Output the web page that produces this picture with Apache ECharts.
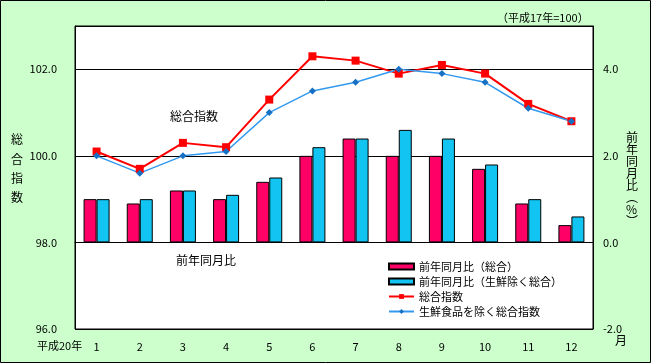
<!DOCTYPE html>
<html><head><meta charset="utf-8">
<script src="https://cdn.jsdelivr.net/npm/echarts@6/dist/echarts.min.js"></script>
<style>html,body{margin:0;padding:0;background:#CCFFCC}#c{width:651px;height:363px}</style>
</head><body><div id="c"></div>
<script>
const months = ['1','2','3','4','5','6','7','8','9','10','11','12'];
const yoyTotal = [1.0,0.9,1.2,1.0,1.4,2.0,2.4,2.0,2.0,1.7,0.9,0.4];
const yoyExFresh = [1.0,1.0,1.2,1.1,1.5,2.2,2.4,2.6,2.4,1.8,1.0,0.6];
const indexTotal = [100.1,99.7,100.3,100.2,101.3,102.3,102.2,101.9,102.1,101.9,101.2,100.8];
const indexExFresh = [100.0,99.6,100.0,100.1,101.0,101.5,101.7,102.0,101.9,101.7,101.1,100.8];
const names = ['前年同月比（総合）','前年同月比（生鮮除く総合）','総合指数','生鮮食品を除く総合指数'];

const FF = 'Noto Sans CJK JP';
const chart = echarts.init(document.getElementById('c'), null, {renderer:'canvas'});
chart.setOption({
  backgroundColor: '#CCFFCC',
  animation: false,
  textStyle: {fontFamily: FF, color: '#000'},
  grid: {left: 75, right: 58, top: 26, bottom: 34, show: true, backgroundColor: '#fff', borderColor: '#000', borderWidth: 1},
  legend: {
    orient: 'vertical', left: 383, top: 256, itemWidth: 25, itemHeight: 6, itemGap: 4,
    textStyle: {fontFamily: FF, fontSize: 11, color: '#000'},
    data: [
      {name: names[0], icon: 'rect'},
      {name: names[1], icon: 'rect'},
      {name: names[2]},
      {name: names[3]}
    ]
  },
  xAxis: {
    type: 'category', data: months, boundaryGap: true,
    axisLine: {lineStyle: {color: '#000'}},
    axisTick: {inside: true, length: 4, lineStyle: {color: '#000'}},
    axisLabel: {color: '#000', fontFamily: FF, fontSize: 11, margin: 12}
  },
  yAxis: [
    {type: 'value', min: 96, max: 103, interval: 2,
     axisLine: {show: true, lineStyle: {color: '#000'}}, axisTick: {show: false},
     splitLine: {lineStyle: {color: '#000', width: 1}},
     axisLabel: {color: '#000', fontFamily: FF, fontSize: 11, margin: 18, showMaxLabel: false,
       formatter: v => (v === 103 ? '' : v.toFixed(1))}},
    {type: 'value', min: -2, max: 5, interval: 2,
     axisLine: {show: true, lineStyle: {color: '#000'}}, axisTick: {show: false},
     splitLine: {show: false},
     axisLabel: {color: '#000', fontFamily: FF, fontSize: 11, margin: 10, showMaxLabel: false,
       formatter: v => (v === 5 ? '' : v.toFixed(1))}}
  ],
  series: [
    {name: names[0], type: 'bar', yAxisIndex: 1, data: yoyTotal, barWidth: 13, barGap: '0%',
     itemStyle: {color: '#FF0066', borderColor: '#000', borderWidth: 1}},
    {name: names[1], type: 'bar', yAxisIndex: 1, data: yoyExFresh, barWidth: 13,
     itemStyle: {color: '#11C4F2', borderColor: '#000', borderWidth: 1}},
    {name: names[2], type: 'line', yAxisIndex: 0, data: indexTotal, symbol: 'rect', symbolSize: 8,
     lineStyle: {color: '#FF0000', width: 2}, itemStyle: {color: '#FF0000'}},
    {name: names[3], type: 'line', yAxisIndex: 0, data: indexExFresh, symbol: 'diamond', symbolSize: 7,
     lineStyle: {color: '#3399EE', width: 1.5}, itemStyle: {color: '#1670C4'}}
  ],
  graphic: [
    {type: 'rect', shape: {x: 0.5, y: 0.5, width: 650, height: 362}, style: {fill: 'none', stroke: '#000', lineWidth: 1}, z: 100},
    {type: 'text', left: 497, top: 12, style: {text: '（平成17年=100）', font: '11px "Noto Sans CJK JP"', fill: '#000'}},
    {type: 'text', left: 170, top: 110, style: {text: '総合指数', font: '12px "Noto Sans CJK JP"', fill: '#000'}, z: 50},
    {type: 'text', left: 176, top: 254, style: {text: '前年同月比', font: '12px "Noto Sans CJK JP"', fill: '#000'}, z: 50},
    {type: 'text', left: 37, top: 340, style: {text: '平成20年', font: '11px "Noto Sans CJK JP"', fill: '#000'}},
    {type: 'text', left: 615, top: 334, style: {text: '月', font: '12px "Noto Sans CJK JP"', fill: '#000'}},
    {type: 'text', left: 11, top: 130, style: {text: '総\n合\n指\n数', font: '12px "Noto Sans CJK JP"', lineHeight: 19.3, fill: '#000'}},
    {type: 'text', left: 626, top: 131, style: {text: '前\n年\n同\n月\n比\n︵\n%\n︶', font: '12px "Noto Sans CJK JP"', lineHeight: 12, align: 'center', fill: '#000'}}
  ]
});
</script></body></html>
